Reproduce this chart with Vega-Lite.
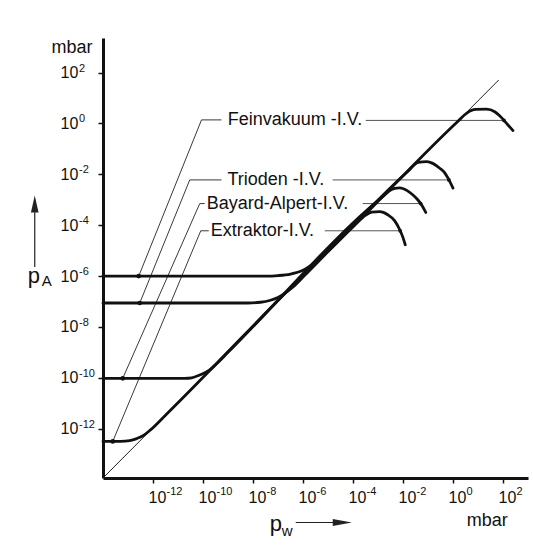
{
  "$schema": "https://vega.github.io/schema/vega-lite/v6.json",
  "width": 425,
  "height": 440,
  "autosize": {"type": "none"},
  "padding": {"left": 103, "top": 38, "right": 5, "bottom": 68},
  "background": "white",
  "config": {"view": {"stroke": null}, "font": "Liberation Sans"},
  "datasets": {
    "ideal": [
      {"pw": 1e-14, "pa": 1.148e-14},
      {"pw": 67.61, "pa": 51.29}
    ],
    "gauges": [
      {"gauge": "Extraktor", "pw": 1e-14, "pa": 3.162e-13},
      {"gauge": "Extraktor", "pw": 5.012e-14, "pa": 3.162e-13},
      {"gauge": "Extraktor", "pw": 1.175e-13, "pa": 3.388e-13},
      {"gauge": "Extraktor", "pw": 2.239e-13, "pa": 4.074e-13},
      {"gauge": "Extraktor", "pw": 3.981e-13, "pa": 5.248e-13},
      {"gauge": "Extraktor", "pw": 7.943e-13, "pa": 8.913e-13},
      {"gauge": "Extraktor", "pw": 3.162e-12, "pa": 3.388e-12},
      {"gauge": "Extraktor", "pw": 1e-4, "pa": 8.71e-5},
      {"gauge": "Extraktor", "pw": 3.236e-4, "pa": 2.512e-4},
      {"gauge": "Extraktor", "pw": 5.623e-4, "pa": 3.236e-4},
      {"gauge": "Extraktor", "pw": 1.175e-3, "pa": 3.388e-4},
      {"gauge": "Extraktor", "pw": 2.455e-3, "pa": 2.57e-4},
      {"gauge": "Extraktor", "pw": 4.677e-3, "pa": 1.479e-4},
      {"gauge": "Extraktor", "pw": 7.413e-3, "pa": 6.607e-5},
      {"gauge": "Extraktor", "pw": 9.772e-3, "pa": 3.467e-5},
      {"gauge": "Extraktor", "pw": 1.23e-2, "pa": 1.698e-5},

      {"gauge": "Bayard-Alpert", "pw": 1e-14, "pa": 9.55e-11},
      {"gauge": "Bayard-Alpert", "pw": 1.862e-11, "pa": 9.55e-11},
      {"gauge": "Bayard-Alpert", "pw": 3.548e-11, "pa": 1e-10},
      {"gauge": "Bayard-Alpert", "pw": 7.413e-11, "pa": 1.288e-10},
      {"gauge": "Bayard-Alpert", "pw": 1.862e-10, "pa": 2.042e-10},
      {"gauge": "Bayard-Alpert", "pw": 3.467e-10, "pa": 3.548e-10},
      {"gauge": "Bayard-Alpert", "pw": 1e-9, "pa": 1e-9},
      {"gauge": "Bayard-Alpert", "pw": 1.585e-3, "pa": 1.349e-3},
      {"gauge": "Bayard-Alpert", "pw": 3.467e-3, "pa": 2.512e-3},
      {"gauge": "Bayard-Alpert", "pw": 4.677e-3, "pa": 2.818e-3},
      {"gauge": "Bayard-Alpert", "pw": 7.413e-3, "pa": 2.951e-3},
      {"gauge": "Bayard-Alpert", "pw": 1.413e-2, "pa": 2.344e-3},
      {"gauge": "Bayard-Alpert", "pw": 2.512e-2, "pa": 1.549e-3},
      {"gauge": "Bayard-Alpert", "pw": 3.89e-2, "pa": 1e-3},
      {"gauge": "Bayard-Alpert", "pw": 5.495e-2, "pa": 6.31e-4},
      {"gauge": "Bayard-Alpert", "pw": 8.128e-2, "pa": 3.162e-4},

      {"gauge": "Trioden", "pw": 1e-14, "pa": 8.71e-8},
      {"gauge": "Trioden", "pw": 6.31e-9, "pa": 8.71e-8},
      {"gauge": "Trioden", "pw": 1.995e-8, "pa": 9.333e-8},
      {"gauge": "Trioden", "pw": 5.012e-8, "pa": 1.122e-7},
      {"gauge": "Trioden", "pw": 1e-7, "pa": 1.445e-7},
      {"gauge": "Trioden", "pw": 1.995e-7, "pa": 2.188e-7},
      {"gauge": "Trioden", "pw": 3.981e-7, "pa": 3.715e-7},
      {"gauge": "Trioden", "pw": 1e-6, "pa": 9.12e-7},
      {"gauge": "Trioden", "pw": 1.585e-2, "pa": 1.318e-2},
      {"gauge": "Trioden", "pw": 3.981e-2, "pa": 2.951e-2},
      {"gauge": "Trioden", "pw": 9.12e-2, "pa": 3.162e-2},
      {"gauge": "Trioden", "pw": 0.1549, "pa": 2.692e-2},
      {"gauge": "Trioden", "pw": 0.2951, "pa": 1.738e-2},
      {"gauge": "Trioden", "pw": 0.4677, "pa": 1.148e-2},
      {"gauge": "Trioden", "pw": 0.631, "pa": 7.079e-3},
      {"gauge": "Trioden", "pw": 1, "pa": 2.884e-3},

      {"gauge": "Feinvakuum", "pw": 1e-14, "pa": 1e-6},
      {"gauge": "Feinvakuum", "pw": 3.162e-8, "pa": 1e-6},
      {"gauge": "Feinvakuum", "pw": 1e-7, "pa": 1.047e-6},
      {"gauge": "Feinvakuum", "pw": 3.162e-7, "pa": 1.202e-6},
      {"gauge": "Feinvakuum", "pw": 1e-6, "pa": 1.698e-6},
      {"gauge": "Feinvakuum", "pw": 3.162e-6, "pa": 3.548e-6},
      {"gauge": "Feinvakuum", "pw": 1e-5, "pa": 9.333e-6},
      {"gauge": "Feinvakuum", "pw": 3.162e-5, "pa": 2.818e-5},
      {"gauge": "Feinvakuum", "pw": 1e-4, "pa": 8.71e-5},
      {"gauge": "Feinvakuum", "pw": 1.585, "pa": 1.23},
      {"gauge": "Feinvakuum", "pw": 3.467, "pa": 2.512},
      {"gauge": "Feinvakuum", "pw": 8.128, "pa": 3.548},
      {"gauge": "Feinvakuum", "pw": 21.88, "pa": 3.631},
      {"gauge": "Feinvakuum", "pw": 46.77, "pa": 2.884},
      {"gauge": "Feinvakuum", "pw": 89.13, "pa": 1.66},
      {"gauge": "Feinvakuum", "pw": 154.9, "pa": 0.8913},
      {"gauge": "Feinvakuum", "pw": 251.2, "pa": 0.5248}
    ],
    "leadersLeft": [
      {"gauge": "Feinvakuum", "pw": 5.495e-10, "pa": 1.38},
      {"gauge": "Feinvakuum", "pw": 8.71e-11, "pa": 1.38},
      {"gauge": "Feinvakuum", "pw": 2.692e-13, "pa": 1e-6},
      {"gauge": "Trioden", "pw": 5.495e-10, "pa": 6.026e-3},
      {"gauge": "Trioden", "pw": 2.951e-11, "pa": 6.026e-3},
      {"gauge": "Trioden", "pw": 2.951e-13, "pa": 8.71e-8},
      {"gauge": "Bayard-Alpert", "pw": 1.175e-10, "pa": 7.079e-4},
      {"gauge": "Bayard-Alpert", "pw": 7.413e-11, "pa": 7.079e-4},
      {"gauge": "Bayard-Alpert", "pw": 6.166e-14, "pa": 9.55e-11},
      {"gauge": "Extraktor", "pw": 1.698e-10, "pa": 6.026e-5},
      {"gauge": "Extraktor", "pw": 8.128e-11, "pa": 6.026e-5},
      {"gauge": "Extraktor", "pw": 2.455e-14, "pa": 3.162e-13}
    ],
    "leadersRight": [
      {"gauge": "Feinvakuum", "pw": 3.236e-4, "pa": 1.318},
      {"gauge": "Feinvakuum", "pw": 109.6, "pa": 1.318},
      {"gauge": "Trioden", "pw": 1.549e-5, "pa": 6.026e-3},
      {"gauge": "Trioden", "pw": 0.686, "pa": 6.026e-3},
      {"gauge": "Bayard-Alpert", "pw": 2.455e-4, "pa": 7.079e-4},
      {"gauge": "Bayard-Alpert", "pw": 5.1e-2, "pa": 7.079e-4},
      {"gauge": "Extraktor", "pw": 7.413e-6, "pa": 6.026e-5},
      {"gauge": "Extraktor", "pw": 7.71e-3, "pa": 6.026e-5}
    ],
    "dotsLeft": [
      {"gauge": "Feinvakuum", "pw": 2.692e-13, "pa": 1e-6},
      {"gauge": "Trioden", "pw": 2.951e-13, "pa": 8.71e-8},
      {"gauge": "Bayard-Alpert", "pw": 6.166e-14, "pa": 9.55e-11},
      {"gauge": "Extraktor", "pw": 2.455e-14, "pa": 3.162e-13}
    ],
    "dotsRight": [
      {"gauge": "Feinvakuum", "pw": 109.6, "pa": 1.318},
      {"gauge": "Trioden", "pw": 0.686, "pa": 6.026e-3},
      {"gauge": "Bayard-Alpert", "pw": 5.1e-2, "pa": 7.079e-4},
      {"gauge": "Extraktor", "pw": 7.71e-3, "pa": 6.026e-5}
    ],
    "gaugeLabels": [
      {"label": "Feinvakuum -I.V.", "pw": 9.772e-10, "pa": 1.38},
      {"label": "Trioden -I.V.", "pw": 9.55e-10, "pa": 6.026e-3},
      {"label": "Bayard-Alpert-I.V.", "pw": 1.413e-10, "pa": 7.079e-4},
      {"label": "Extraktor-I.V.", "pw": 2.042e-10, "pa": 6.026e-5}
    ],
    "xExponents": [
      {"pw": 1e-12, "pa": 1.148e-14, "exp": "-12"},
      {"pw": 1e-10, "pa": 1.148e-14, "exp": "-10"},
      {"pw": 1e-8, "pa": 1.148e-14, "exp": "-8"},
      {"pw": 1e-6, "pa": 1.148e-14, "exp": "-6"},
      {"pw": 1e-4, "pa": 1.148e-14, "exp": "-4"},
      {"pw": 1e-2, "pa": 1.148e-14, "exp": "-2"},
      {"pw": 1, "pa": 1.148e-14, "exp": "0"},
      {"pw": 100, "pa": 1.148e-14, "exp": "2"}
    ],
    "yExponents": [
      {"pw": 1e-14, "pa": 100, "exp": "2"},
      {"pw": 1e-14, "pa": 1, "exp": "0"},
      {"pw": 1e-14, "pa": 1e-2, "exp": "-2"},
      {"pw": 1e-14, "pa": 1e-4, "exp": "-4"},
      {"pw": 1e-14, "pa": 1e-6, "exp": "-6"},
      {"pw": 1e-14, "pa": 1e-8, "exp": "-8"},
      {"pw": 1e-14, "pa": 1e-10, "exp": "-10"},
      {"pw": 1e-14, "pa": 1e-12, "exp": "-12"}
    ],
    "units": [
      {"label": "mbar", "pw": 8.71e-17, "pa": 933.3},
      {"label": "mbar", "pw": 3.548, "pa": 2.239e-16}
    ],
    "symbols": [
      {"label": "p", "pw": 9.772e-18, "pa": 5.495e-7},
      {"label": "p", "pw": 4.677e-8, "pa": 9.772e-17}
    ],
    "subscripts": [
      {"label": "A", "pw": 3.548e-17, "pa": 4.169e-7},
      {"label": "w", "pw": 1.413e-7, "pa": 6.166e-17}
    ],
    "arrowShafts": [
      {"arrow": "pA", "pw": 1.862e-17, "pa": 2.291e-6},
      {"arrow": "pA", "pw": 1.862e-17, "pa": 3.311e-4},
      {"arrow": "pW", "pw": 5.129e-7, "pa": 2.042e-16},
      {"arrow": "pW", "pw": 2.042e-5, "pa": 2.042e-16}
    ],
    "arrowUp": [{"pw": 1.862e-17, "pa": 6.761e-4}],
    "arrowRight": [{"pw": 3.715e-5, "pa": 2.042e-16}]
  },
  "encoding": {
    "x": {
      "field": "pw",
      "type": "quantitative",
      "scale": {"type": "log", "domain": [1e-14, 1000], "nice": false, "zero": false},
      "axis": {
        "title": null,
        "grid": false,
        "values": [1e-12, 1e-10, 1e-8, 1e-6, 1e-4, 1e-2, 1, 100],
        "labelExpr": "'10'",
        "labelAlign": "left",
        "labelBaseline": "top",
        "labelOffset": -5,
        "domainWidth": 3,
        "domainColor": "#111",
        "tickColor": "#111",
        "tickWidth": 1.5,
        "tickSize": 5,
        "labelFont": "Liberation Sans",
        "labelFontSize": 16,
        "labelColor": "#111",
        "labelPadding": 6,
        "labelFlush": false,
        "labelOverlap": false
      }
    },
    "y": {
      "field": "pa",
      "type": "quantitative",
      "scale": {"type": "log", "domain": [1.148e-14, 2291], "nice": false, "zero": false},
      "axis": {
        "title": null,
        "grid": false,
        "values": [100, 1, 1e-2, 1e-4, 1e-6, 1e-8, 1e-10, 1e-12],
        "labelExpr": "'10'",
        "labelAlign": "left",
        "labelBaseline": "middle",
        "domainWidth": 3,
        "domainColor": "#111",
        "tickColor": "#111",
        "tickWidth": 1.5,
        "tickSize": 5,
        "labelFont": "Liberation Sans",
        "labelFontSize": 16,
        "labelColor": "#111",
        "labelPadding": 38,
        "labelFlush": false,
        "labelOverlap": false
      }
    }
  },
  "layer": [
    {
      "data": {"name": "ideal"},
      "mark": {"type": "line", "color": "#222", "strokeWidth": 1},
      "encoding": {}
    },
    {
      "data": {"name": "leadersLeft"},
      "mark": {"type": "line", "color": "#222", "strokeWidth": 0.9},
      "encoding": {"detail": {"field": "gauge"}}
    },
    {
      "data": {"name": "leadersRight"},
      "mark": {"type": "line", "color": "#555", "strokeWidth": 1},
      "encoding": {"detail": {"field": "gauge"}}
    },
    {
      "data": {"name": "gauges"},
      "mark": {"type": "line", "color": "#111", "strokeWidth": 2.8, "interpolate": "monotone", "strokeJoin": "round", "strokeCap": "round"},
      "encoding": {"detail": {"field": "gauge"}}
    },
    {
      "data": {"name": "dotsLeft"},
      "mark": {"type": "point", "shape": "circle", "filled": true, "size": 22, "color": "#111", "opacity": 1},
      "encoding": {}
    },
    {
      "data": {"name": "dotsRight"},
      "mark": {"type": "point", "shape": "circle", "filled": true, "size": 14, "color": "#111", "opacity": 1},
      "encoding": {}
    },
    {
      "data": {"name": "gaugeLabels"},
      "mark": {"type": "text", "align": "left", "baseline": "middle", "fontSize": 18, "font": "Liberation Sans", "color": "#111"},
      "encoding": {"text": {"field": "label"}}
    },
    {
      "data": {"name": "xExponents"},
      "mark": {"type": "text", "align": "left", "baseline": "top", "dx": 13.5, "dy": 8, "fontSize": 11, "font": "Liberation Sans", "color": "#111"},
      "encoding": {"text": {"field": "exp"}}
    },
    {
      "data": {"name": "yExponents"},
      "mark": {"type": "text", "align": "left", "baseline": "top", "dx": -24, "dy": -10, "fontSize": 11, "font": "Liberation Sans", "color": "#111"},
      "encoding": {"text": {"field": "exp"}}
    },
    {
      "data": {"name": "units"},
      "mark": {"type": "text", "align": "left", "baseline": "middle", "fontSize": 18, "font": "Liberation Sans", "color": "#111"},
      "encoding": {"text": {"field": "label"}}
    },
    {
      "data": {"name": "symbols"},
      "mark": {"type": "text", "align": "left", "baseline": "alphabetic", "fontSize": 22, "font": "Liberation Sans", "color": "#111"},
      "encoding": {"text": {"field": "label"}}
    },
    {
      "data": {"name": "subscripts"},
      "mark": {"type": "text", "align": "left", "baseline": "alphabetic", "fontSize": 15, "font": "Liberation Sans", "color": "#111"},
      "encoding": {"text": {"field": "label"}}
    },
    {
      "data": {"name": "arrowShafts"},
      "mark": {"type": "line", "color": "#222", "strokeWidth": 1.2},
      "encoding": {"detail": {"field": "arrow"}}
    },
    {
      "data": {"name": "arrowUp"},
      "mark": {"type": "point", "shape": "M0,-1L0.45,1L-0.45,1Z", "filled": true, "size": 289, "color": "#222", "opacity": 1},
      "encoding": {}
    },
    {
      "data": {"name": "arrowRight"},
      "mark": {"type": "point", "shape": "M1,0L-1,-0.37L-1,0.37Z", "filled": true, "size": 361, "color": "#222", "opacity": 1},
      "encoding": {}
    }
  ]
}
